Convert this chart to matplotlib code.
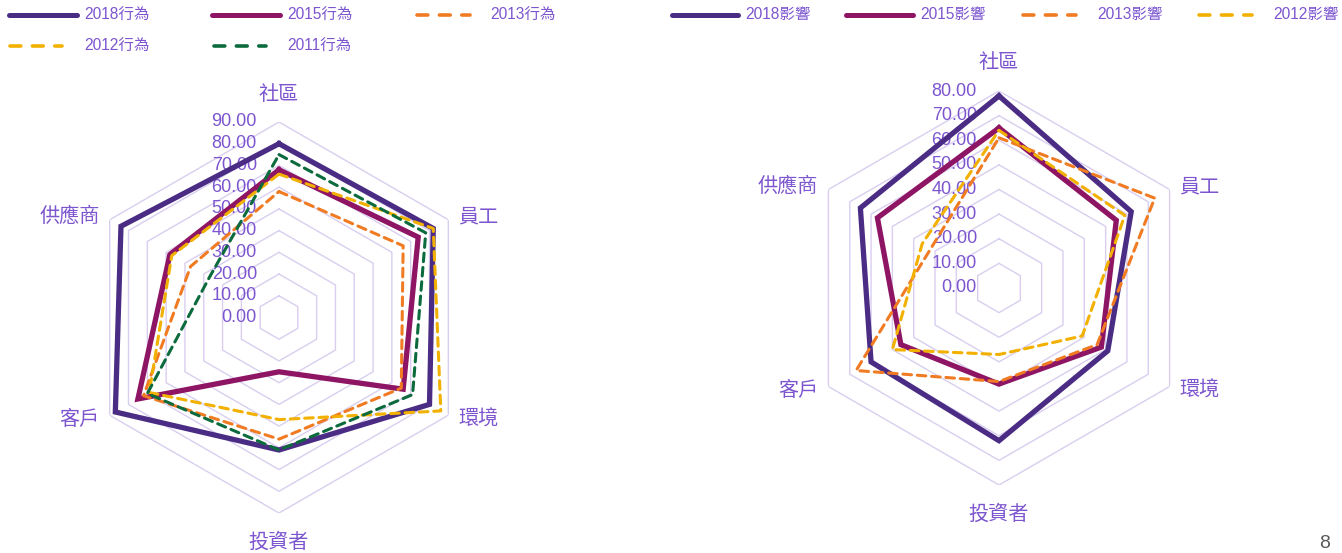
import numpy as np
import matplotlib
matplotlib.use("Agg")
import matplotlib.pyplot as plt
from matplotlib.lines import Line2D
from matplotlib.transforms import offset_copy

plt.rcParams['font.family'] = ['Liberation Sans', 'Noto Sans CJK TC', 'DejaVu Sans']

# categories (clockwise from top)
categories = ['社區', '員工', '環境', '投資者', '客戶', '供應商']

# left chart: 行為
beh_labels = ['2018行為', '2015行為', '2013行為', '2012行為', '2011行為']
beh_2018 = [80, 82, 80, 61, 87, 84]
beh_2015 = [68, 74, 66, 25, 75, 58]
beh_2013 = [58, 66, 65, 56, 72, 47]
beh_2012 = [66, 82, 86, 47, 69, 57]
beh_2011 = [75, 78, 71, 61, 70, 37]
beh_ticks = [0, 10, 20, 30, 40, 50, 60, 70, 80, 90]

# right chart: 影響
imp_labels = ['2018影響', '2015影響', '2013影響', '2012影響']
imp_2018 = [78, 62, 51, 62, 60, 65]
imp_2015 = [65, 55, 48, 39, 46, 57]
imp_2013 = [61, 73, 46, 38, 67, 32]
imp_2012 = [64, 59, 39, 27, 50, 36]
imp_ticks = [0, 10, 20, 30, 40, 50, 60, 70, 80]

# styles
styles = {
    '2018': dict(color='#4b2c84', lw=3.8, ls='-'),
    '2015': dict(color='#8e1464', lw=3.8, ls='-'),
    '2013': dict(color='#f07b22', lw=2.2, ls='--'),
    '2012': dict(color='#f2b100', lw=2.2, ls='--'),
    '2011': dict(color='#0c6b3c', lw=2.2, ls='--'),
}
text_purple = '#7c55cf'
grid_color = '#d9cef0'

W, H = 1342, 553
fig = plt.figure(figsize=(W / 100, H / 100), dpi=100)
fig.patch.set_facecolor('white')

angles = np.linspace(0, 2 * np.pi, len(categories), endpoint=False)
closed = np.concatenate([angles, angles[:1]])


def draw_line(ax, vals, key, z):
    st = styles[key]
    v = list(vals) + [vals[0]]
    line, = ax.plot(closed, v, color=st['color'], lw=st['lw'], zorder=z,
                    solid_joinstyle='miter', dash_capstyle='round')
    if st['ls'] == '--':
        line.set_dashes((2.8, 1.9))
    return line


def radar(rect, series, ticks):
    ax = fig.add_axes(rect, projection='polar')
    ax.set_theta_offset(np.pi / 2)
    ax.set_theta_direction(-1)
    rmax = ticks[-1]
    ax.set_ylim(0, rmax)
    ax.set_axis_off()
    # hexagonal grid rings
    for t in ticks[1:]:
        ax.plot(closed, [t] * len(closed), color=grid_color, lw=1.0, zorder=1)
    # tick labels along the top axis
    tr = offset_copy(ax.transData, fig=fig, x=-22, y=0, units='dots')
    for t in ticks:
        ax.text(0, t, f'{t:.2f}', transform=tr, ha='right', va='center',
                fontsize=13, color=text_purple, zorder=2)
    # series
    for i, (key, vals) in enumerate(series):
        draw_line(ax, vals, key, 3 + i)
    # category labels
    for ang, cat in zip(angles, categories):
        deg = np.degrees(ang)
        if deg == 0:
            tr = offset_copy(ax.transData, fig=fig, x=0, y=28, units='dots')
            ha, va = 'center', 'center'
        elif deg == 180:
            tr = offset_copy(ax.transData, fig=fig, x=0, y=-29, units='dots')
            ha, va = 'center', 'center'
        elif deg < 180:
            tr = offset_copy(ax.transData, fig=fig, x=10, y=3 if deg < 90 else -4, units='dots')
            ha, va = 'left', 'center'
        else:
            tr = offset_copy(ax.transData, fig=fig, x=-10, y=-4 if deg < 270 else 3, units='dots')
            ha, va = 'right', 'center'
        ax.text(ang, rmax, cat, transform=tr, ha=ha, va=va, fontsize=14.5,
                color=text_purple, family=['Noto Sans CJK TC'], fontweight='light')
    return ax


# left radar: centre (279, 317.5), radius 195.5 px
cx, cy, r = 279, 317.5, 195.5
radar([(cx - r) / W, (H - cy - r) / H, 2 * r / W, 2 * r / H],
      [('2018', beh_2018), ('2015', beh_2015), ('2013', beh_2013),
       ('2012', beh_2012), ('2011', beh_2011)], beh_ticks)

# right radar: centre (999, 288), radius 197 px
cx, cy, r = 999, 288, 197
radar([(cx - r) / W, (H - cy - r) / H, 2 * r / W, 2 * r / H],
      [('2018', imp_2018), ('2015', imp_2015), ('2013', imp_2013),
       ('2012', imp_2012)], imp_ticks)


# legends (pixel layout)
def legend_item(x0, x1, xt, y, key, label):
    st = styles[key]
    ln = Line2D([x0 / W, x1 / W], [1 - y / H, 1 - y / H], transform=fig.transFigure,
                color=st['color'], lw=3.6 if st['ls'] == '-' else 2.6,
                solid_capstyle='round', dash_capstyle='round')
    if st['ls'] == '--':
        ln.set_dashes((3.0, 3.2))
    fig.add_artist(ln)
    fig.text(xt / W, 1 - y / H, label, ha='left', va='center', fontsize=11.2,
             color=text_purple)


legend_item(9, 77, 84, 15, '2018', beh_labels[0])
legend_item(212, 280, 287, 15, '2015', beh_labels[1])
legend_item(417, 470, 490, 15, '2013', beh_labels[2])
legend_item(10, 62, 84, 46, '2012', beh_labels[3])
legend_item(214, 266, 287, 46, '2011', beh_labels[4])

legend_item(672, 738, 745, 15, '2018', imp_labels[0])
legend_item(846, 913, 920, 15, '2015', imp_labels[1])
legend_item(1023, 1076, 1097, 15, '2013', imp_labels[2])
legend_item(1199, 1252, 1273, 15, '2012', imp_labels[3])

# page number
fig.text(1325 / W, 1 - 543 / H, '8', ha='center', va='center', fontsize=14, color='#595959')

fig.savefig('out.png', dpi=100)
